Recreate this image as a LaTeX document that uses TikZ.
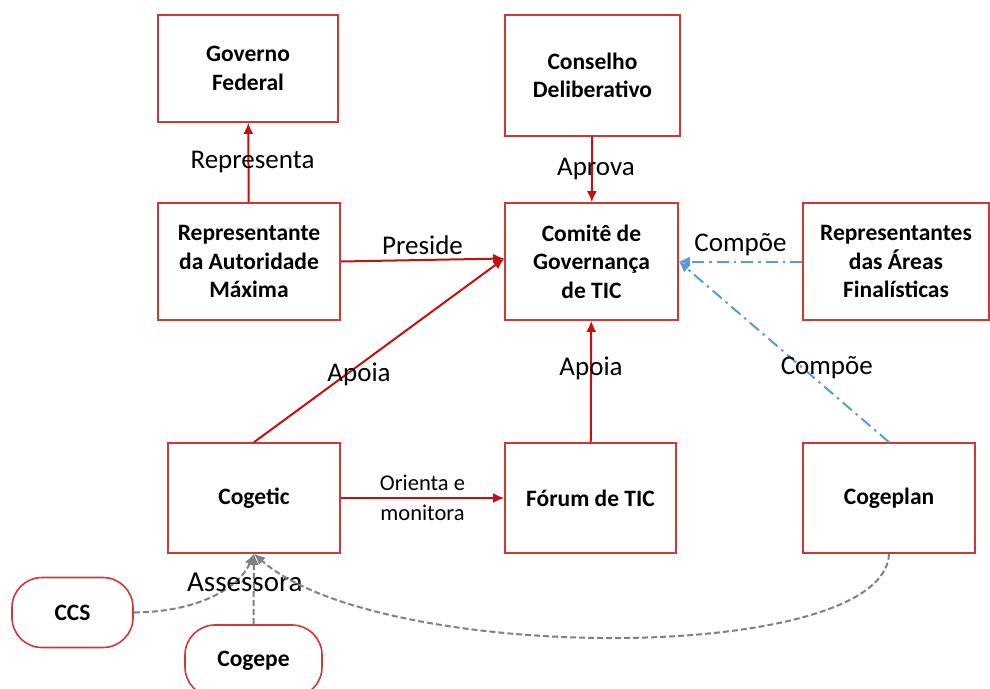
\documentclass[tikz,border=0pt]{standalone}
\usepackage{fontspec}
\setmainfont{Carlito}
\usetikzlibrary{arrows.meta}
\definecolor{boxred}{RGB}{208,56,56}
\definecolor{linered}{RGB}{196,16,16}
\definecolor{compblue}{RGB}{91,155,213}
\definecolor{assgray}{RGB}{128,128,128}

\begin{document}
\begin{tikzpicture}[x=1pt, y=-1pt,
    box/.style={draw=boxred, line width=1.6pt, align=center, inner sep=0pt,
      font=\fontsize{23.5}{28.5}\selectfont\bfseries},
    roundbox/.style={box, rounded corners=30pt},
    redarrow/.style={draw=linered, line width=2pt, -{Latex[length=11pt,width=10pt]}},
    bluearrow/.style={draw=compblue, line width=2pt,
      dash pattern=on 12pt off 5pt on 2.5pt off 5pt, -{Latex[length=11pt,width=10pt]}},
    grayarrow/.style={draw=assgray, line width=2pt,
      dash pattern=on 6pt off 3pt, -{Latex[length=11pt,width=10pt]}},
    lbl/.style={font=\fontsize{27}{30}\selectfont}]
    \useasboundingbox (0,0) rectangle (990,688);

    \node [box, minimum width=180pt, minimum height=107pt] (gov) at (248,68.5)
      {Governo\\Federal};
    \node [box, minimum width=175pt, minimum height=121pt] (cons) at (592.5,75.5)
      {Conselho\\Deliberativo};
    \node [box, minimum width=182pt, minimum height=117pt] (rep) at (249,261.5)
      {Representante\\da Autoridade\\Máxima};
    \node [box, minimum width=173pt, minimum height=117pt] (comite) at (591.5,261.5)
      {Comitê de\\Governança\\de TIC};
    \node [box, minimum width=186pt, minimum height=117pt] (areas) at (896,261.5)
      {Representantes\\das Áreas\\Finalísticas};
    \node [box, minimum width=172pt, minimum height=110pt] (cogetic) at (254,498)
      {Cogetic};
    \node [box, minimum width=171pt, minimum height=110pt] (forum) at (590.5,498)
      {Fórum de TIC};
    \node [box, minimum width=172pt, minimum height=110pt] (cogeplan) at (889,498)
      {Cogeplan};
    \node [roundbox, minimum width=121pt, minimum height=70pt] (ccs) at (72.5,612.5)
      {CCS};
    \node [roundbox, minimum width=137pt, minimum height=72pt] (cogepe) at (253.5,661)
      {Cogepe};

    \draw [redarrow] (rep) -- (gov) node [lbl, midway, xshift=4pt] {Representa};
    \draw [redarrow] (cons) -- (comite) node [lbl, midway, xshift=4pt] {Aprova};
    \draw [redarrow] (rep.east) -- ([yshift=3pt]comite.west)
      node [lbl, midway, above=1pt] {Preside};
    \draw [redarrow] (cogetic.north) -- ([yshift=3pt]comite.west)
      node [lbl, pos=0.42, yshift=-9pt] {Apoia};
    \draw [redarrow] (forum) -- (comite) node [lbl, pos=0.61] {Apoia};
    \draw [redarrow] (cogetic) -- (forum)
      node [midway, align=center, font=\fontsize{22.5}{30}\selectfont] {Orienta e\\monitora};

    \draw [bluearrow] (areas.west) -- (comite.east) node [lbl, midway, above=1pt] {Compõe};
    \draw [bluearrow] (cogeplan.north) -- (comite.east)
      node [lbl, pos=0.41, xshift=24pt] {Compõe};

    \draw [grayarrow] (ccs.east) .. controls (195,612) and (238,590) .. (cogetic.south);
    \draw [grayarrow] (cogepe.north) -- (cogetic.south)
      node [pos=0.6, xshift=-9pt, font=\fontsize{29}{32}\selectfont] {Assessora};
    \draw [grayarrow] (cogeplan.south) .. controls (885,665) and (380,665) .. (cogetic.south);
\end{tikzpicture}
\end{document}
